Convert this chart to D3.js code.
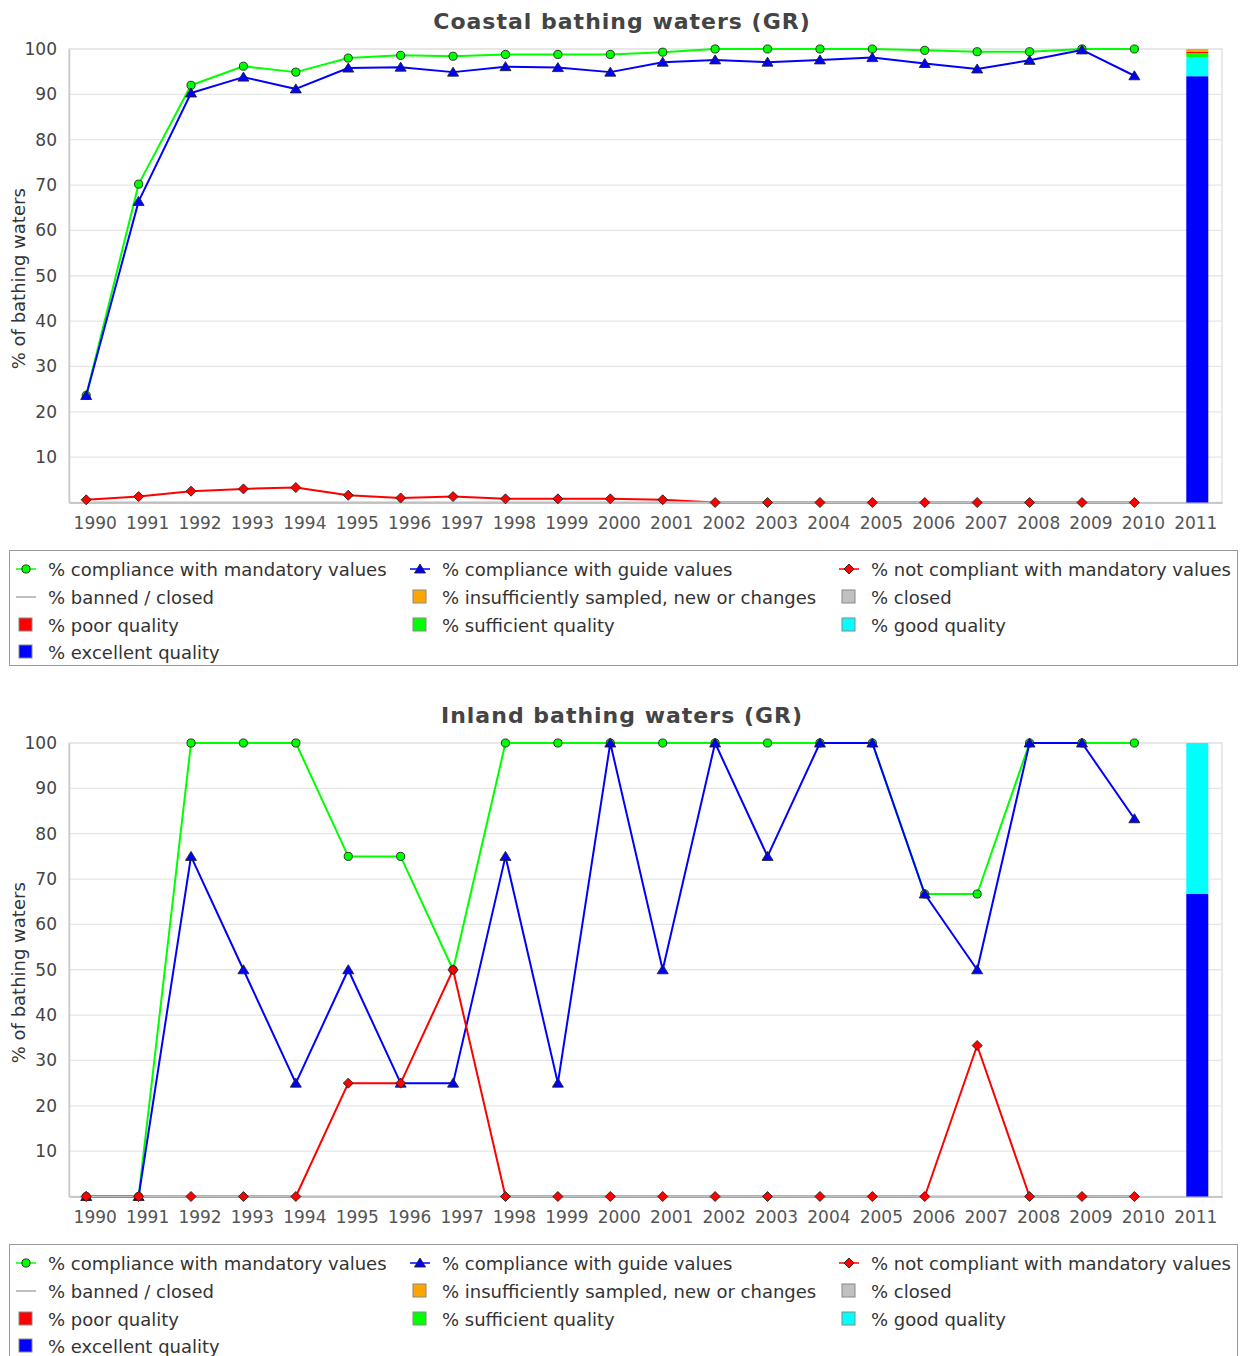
<!DOCTYPE html>
<html><head><meta charset="utf-8">
<script src="https://cdn.jsdelivr.net/npm/d3@7"></script>
<style>
body{margin:0;background:#fff;}
svg{display:block;font-family:"DejaVu Sans",sans-serif;}
</style></head>
<body>
<svg id="chart" width="1240" height="1356"></svg>
<script>
// ---- data ----
const categories = ["1990","1991","1992","1993","1994","1995","1996","1997","1998","1999","2000","2001","2002","2003","2004","2005","2006","2007","2008","2009","2010","2011"];
const lineYears = ["1990","1991","1992","1993","1994","1995","1996","1997","1998","1999","2000","2001","2002","2003","2004","2005","2006","2007","2008","2009","2010"];
const yTicks = [10,20,30,40,50,60,70,80,90,100];

const coastalMandatory   = [23.6,70.2,92.0,96.2,94.9,98.0,98.6,98.4,98.8,98.8,98.8,99.3,100,100,100,100,99.7,99.4,99.4,100,100];
const coastalGuide       = [23.6,66.4,90.3,93.8,91.2,95.8,96.0,94.9,96.1,95.9,94.9,97.1,97.6,97.1,97.6,98.1,96.8,95.6,97.5,99.8,94.1];
const coastalNotComplied = [0.6,1.3,2.5,3.0,3.3,1.6,1.0,1.3,0.8,0.8,0.8,0.6,0,0,0,0,0,0,0,0,0];
const coastalBanned      = [0,0,0,0,0,0,0,0,0,0,0,0,0,0,0,0,0,0,0,0,0];
// 2011 stacked bar: excellent, good, sufficient, poor, insufficiently sampled, closed
const coastal2011 = [94.0, 4.2, 0.9, 0.3, 0.6, 0];

const inlandMandatory   = [0,0,100,100,100,75,75,50,100,100,100,100,100,100,100,100,66.7,66.7,100,100,100];
const inlandGuide       = [0,0,75,50,25,50,25,25,75,25,100,50,100,75,100,100,66.7,50,100,100,83.3];
const inlandNotComplied = [0,0,0,0,0,25,25,50,0,0,0,0,0,0,0,0,0,33.3,0,0,0];
const inlandBanned      = [0,0,0,0,0,0,0,0,0,0,0,0,0,0,0,0,0,0,0,0,0];
const inland2011 = [66.7, 33.3, 0, 0, 0, 0];

const barKeys   = ["excellent","good","sufficient","poor","insufficient","closed"];
const barColors = {excellent:"#0000ff", good:"#00ffff", sufficient:"#00ff00", poor:"#ff0000", insufficient:"#ffa500", closed:"#c0c0c0"};

const legendItems = [
  {label:"% compliance with mandatory values", type:"line", color:"#00ff00", shape:"circle"},
  {label:"% compliance with guide values", type:"line", color:"#0000ff", shape:"triangle"},
  {label:"% not compliant with mandatory values", type:"line", color:"#ff0000", shape:"diamond"},
  {label:"% banned / closed", type:"line", color:"#c0c0c0", shape:null},
  {label:"% insufficiently sampled, new or changes", type:"rect", color:"#ffa500"},
  {label:"% closed", type:"rect", color:"#c0c0c0"},
  {label:"% poor quality", type:"rect", color:"#ff0000"},
  {label:"% sufficient quality", type:"rect", color:"#00ff00"},
  {label:"% good quality", type:"rect", color:"#00ffff"},
  {label:"% excellent quality", type:"rect", color:"#0000ff"}
];

// ---- drawing ----
const svg = d3.select("#chart");
const L = 69, R = 1222;
const markerShift = -9;

function shapePath(shape){
  if(shape==="circle") return d3.symbol(d3.symbolCircle, 52)();
  if(shape==="triangle") return "M0,-5L5.5,4L-5.5,4Z";
  if(shape==="diamond") return "M0,-5L5,0L0,5L-5,0Z";
  return null;
}

function drawChart(top, title, series, bar){
  const yTop = top + 49, yBot = top + 502.5;
  const g = svg.append("g");
  const x = d3.scaleBand().domain(categories).range([L,R]).padding(0);
  const y = d3.scaleLinear().domain([0,100]).range([yBot,yTop]);

  // title
  g.append("text").attr("x",622).attr("y",top+29).attr("text-anchor","middle")
    .attr("font-size",22).attr("font-weight","bold").attr("letter-spacing",1)
    .attr("fill","#444").text(title);

  // plot frame
  g.append("rect").attr("x",L).attr("y",yTop).attr("width",R-L).attr("height",yBot-yTop)
    .attr("fill","#fff").attr("stroke","#e2e2e2").attr("stroke-width",1.5);

  // grid
  g.append("g").selectAll("line").data(yTicks).join("line")
    .attr("x1",L).attr("x2",R).attr("y1",d=>y(d)).attr("y2",d=>y(d))
    .attr("stroke","#e6e6e6").attr("stroke-width",1.3);

  // y axis
  const ya = g.append("g").attr("transform",`translate(${L},0)`)
    .call(d3.axisLeft(y).tickValues(yTicks).tickSize(0).tickPadding(12));
  ya.select(".domain").attr("stroke","#c8c8c8").attr("stroke-width",1.5);
  ya.selectAll("text").attr("font-size",17).attr("fill","#444").attr("font-family","DejaVu Sans");

  // x axis
  const xa = g.append("g").attr("transform",`translate(0,${yBot})`)
    .call(d3.axisBottom(x).tickSize(0).tickPadding(14));
  xa.select(".domain").attr("stroke","#c8c8c8").attr("stroke-width",2);
  xa.selectAll("text").attr("font-size",17).attr("fill","#555").attr("font-family","DejaVu Sans");

  // y axis title
  g.append("text").attr("transform",`translate(25,${(yTop+yBot)/2 + 3}) rotate(-90)`)
    .attr("text-anchor","middle").attr("font-size",18).attr("fill","#333").text("% of bathing waters");

  // stacked bar for 2011
  const bw = 22;
  const bx = x("2011") + x.bandwidth()/2 - bw/2 + 1.5;
  let cum = 0;
  barKeys.forEach((k,i)=>{
    const v = bar[i];
    if(v>0){
      g.append("rect").attr("x",bx).attr("width",bw)
        .attr("y",y(cum+v)).attr("height",y(cum)-y(cum+v)).attr("fill",barColors[k]);
    }
    cum += v;
  });

  const px = d => x(d) + x.bandwidth()/2 + markerShift;
  const line = d3.line().x((d,i)=>px(lineYears[i])).y(d=>y(d));
  // lines pass
  series.forEach(s=>{
    g.append("path").datum(s.values).attr("d",line).attr("fill","none")
      .attr("stroke",s.color).attr("stroke-width",2).attr("stroke-linejoin","round");
  });
  // shapes pass
  series.forEach(s=>{
    if(!s.shape) return;
    g.append("g").selectAll("path").data(s.values).join("path")
      .attr("transform",(d,i)=>`translate(${px(lineYears[i])},${y(d)})`)
      .attr("d",shapePath(s.shape)).attr("fill",s.color).attr("stroke","#222").attr("stroke-width",0.9);
  });

  // legend
  const ly = top + 550;
  const lg = svg.append("g");
  lg.append("rect").attr("x",9.5).attr("y",ly+0.5).attr("width",1228).attr("height",115)
    .attr("fill","#fff").attr("stroke","#999").attr("stroke-width",1);
  const colX = [26, 420, 849];
  const rowY = [19, 47, 75, 102];
  legendItems.forEach((it,i)=>{
    const cx = colX[i%3], cy = ly + rowY[Math.floor(i/3)];
    if(it.type==="line"){
      lg.append("line").attr("x1",cx-10).attr("x2",cx+10).attr("y1",cy).attr("y2",cy)
        .attr("stroke",it.color).attr("stroke-width",it.shape?1.5:2);
      if(it.shape){
        lg.append("path").attr("transform",`translate(${cx},${cy})`).attr("d",shapePath(it.shape))
          .attr("fill",it.color).attr("stroke","#222").attr("stroke-width",0.9);
      }
    } else {
      lg.append("rect").attr("x",cx-7).attr("y",cy-7).attr("width",13).attr("height",13)
        .attr("fill",it.color).attr("stroke","#888").attr("stroke-width",1);
    }
    lg.append("text").attr("x",cx+22).attr("y",cy+6.5).attr("font-size",18).attr("fill","#333").text(it.label);
  });
}

drawChart(0, "Coastal bathing waters (GR)", [
  {values:coastalMandatory, color:"#00ff00", shape:"circle"},
  {values:coastalGuide, color:"#0000ff", shape:"triangle"},
  {values:coastalNotComplied, color:"#ff0000", shape:"diamond"},
  {values:coastalBanned, color:"#c0c0c0", shape:null}
], coastal2011);

drawChart(694, "Inland bathing waters (GR)", [
  {values:inlandMandatory, color:"#00ff00", shape:"circle"},
  {values:inlandGuide, color:"#0000ff", shape:"triangle"},
  {values:inlandNotComplied, color:"#ff0000", shape:"diamond"},
  {values:inlandBanned, color:"#c0c0c0", shape:null}
], inland2011);
</script>
</body></html>
